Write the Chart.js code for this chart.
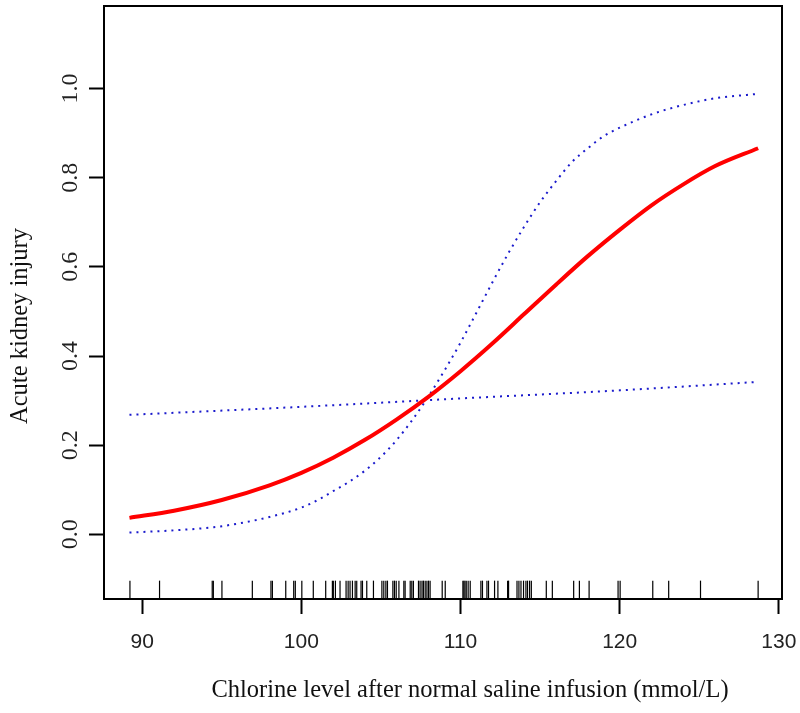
<!DOCTYPE html>
<html>
<head>
<meta charset="utf-8">
<title>Acute kidney injury vs chlorine level</title>
<script src="https://cdn.jsdelivr.net/npm/chart.js@4.4.0/dist/chart.umd.min.js"></script>
<style>
  html, body { margin: 0; padding: 0; background: #fff; }
  #wrap { width: 800px; height: 713px; }
</style>
</head>
<body>
<div id="wrap"><canvas id="rcs" width="800" height="713"></canvas></div>
<script>
// values
const fitX = [89.2, 92, 95, 98, 100, 102, 104, 106, 108, 110, 112, 114, 116, 118, 120, 122, 124, 126, 128.7];
const fitY = [0.037, 0.053, 0.077, 0.110, 0.138, 0.172, 0.212, 0.258, 0.309, 0.366, 0.428, 0.494, 0.560, 0.624, 0.683, 0.738, 0.785, 0.826, 0.866];

// flat band line (upper on the left, lower on the right)
const flatX = [89.2, 100, 109, 120, 128.7];
const flatY = [0.268, 0.286, 0.303, 0.323, 0.342];

// steep band line (lower on the left, upper on the right)
const steepX = [89.2, 92, 94.5, 96, 98, 100, 101.2, 102, 103, 104, 105, 106, 107, 108, 109, 110, 111, 112, 113, 114, 115, 116, 117, 118, 119, 120, 122, 124, 126, 128.7];
const steepY = [0.004, 0.009, 0.016, 0.024, 0.039, 0.060, 0.080, 0.097, 0.118, 0.143, 0.174, 0.212, 0.258, 0.310, 0.368, 0.430, 0.497, 0.565, 0.630, 0.690, 0.745, 0.792, 0.835, 0.866, 0.893, 0.912, 0.942, 0.963, 0.978, 0.988];

// rug of observed chlorine levels
const rugX = [89.23, 91.09, 94.40, 94.47, 95.01, 96.92, 98.09, 98.18, 99.02, 99.52, 99.62, 100.03, 100.75,
  101.53, 101.95, 102.01, 102.14, 102.43, 102.81, 102.94, 103.06, 103.21, 103.38, 103.48, 103.75, 103.84,
  104.11, 104.53, 105.06, 105.18, 105.31, 105.41, 105.75, 105.85, 105.96, 106.13, 106.44, 106.52, 106.84,
  106.94, 107.04, 107.36, 107.46, 107.58, 107.67, 107.78, 107.89, 107.99, 108.09, 108.85, 109.04, 110.15,
  110.21, 110.28, 110.36, 110.48, 110.61, 111.28, 111.38, 111.66, 111.76, 112.14, 112.35, 112.96, 113.02,
  113.55, 113.67, 113.80, 113.96, 114.11, 114.21, 114.34, 114.45, 115.39, 115.77, 117.11, 117.47, 118.08,
  119.90, 120.03, 122.08, 123.08, 125.08, 128.70];
const rugLevel = -0.124;

const xTicks = [90, 100, 110, 120, 130];
const yTicks = [0, 0.2, 0.4, 0.6, 0.8, 1.0];

const xTitle = 'Chlorine level after normal saline infusion (mmol/L)';
const yTitle = 'Acute kidney injury';

const pairs = (xs, ys) => xs.map((x, i) => ({ x: x, y: ys[i] }));

// box round the plot region, like R's box()
const boxPlugin = {
  id: 'box',
  afterDraw(chart) {
    const a = chart.chartArea;
    const ctx = chart.ctx;
    ctx.save();
    ctx.strokeStyle = '#000';
    ctx.lineWidth = 2;
    ctx.strokeRect(a.left, a.top, a.right - a.left, a.bottom - a.top);
    ctx.restore();
  }
};

// tick labels (y rotated, like R's las = 0) and the two axis titles
const textPlugin = {
  id: 'texts',
  afterDraw(chart) {
    const sx = chart.scales.x;
    const sy = chart.scales.y;
    const ctx = chart.ctx;
    ctx.save();
    ctx.fillStyle = '#222';
    ctx.textAlign = 'center';
    ctx.textBaseline = 'middle';

    ctx.font = '21px "Liberation Sans"';
    xTicks.forEach(v => {
      ctx.fillText(String(v), sx.getPixelForValue(v), 642);
    });

    ctx.font = '24px "Liberation Serif"';
    yTicks.forEach(v => {
      ctx.save();
      ctx.translate(71, sy.getPixelForValue(v));
      ctx.rotate(-Math.PI / 2);
      ctx.fillText(v.toFixed(1), 0, 0);
      ctx.restore();
    });

    ctx.fillStyle = '#111';
    ctx.font = '24.5px "Liberation Serif"';
    ctx.fillText(xTitle, 470, 691);
    ctx.save();
    ctx.translate(21, 326);
    ctx.rotate(-Math.PI / 2);
    ctx.fillText(yTitle, 0, 0);
    ctx.restore();
    ctx.restore();
  }
};

new Chart(document.getElementById('rcs'), {
  type: 'line',
  data: {
    datasets: [
      {
        label: 'fit',
        data: pairs(fitX, fitY),
        borderColor: '#ff0000',
        borderWidth: 4,
        pointRadius: 0,
        cubicInterpolationMode: 'monotone'
      },
      {
        label: 'band flat',
        data: pairs(flatX, flatY),
        borderColor: '#1a1acc',
        borderWidth: 2,
        borderDash: [2, 5],
        pointRadius: 0,
        cubicInterpolationMode: 'monotone'
      },
      {
        label: 'band steep',
        data: pairs(steepX, steepY),
        borderColor: '#1a1acc',
        borderWidth: 2,
        borderDash: [2, 5],
        pointRadius: 0,
        cubicInterpolationMode: 'monotone'
      },
      {
        label: 'rug',
        data: rugX.map(x => ({ x: x, y: rugLevel })),
        showLine: false,
        pointStyle: 'line',
        rotation: 90,
        pointRadius: 9,
        pointBorderWidth: 1.2,
        pointBorderColor: '#000',
        borderColor: '#000'
      }
    ]
  },
  options: {
    responsive: false,
    animation: false,
    events: [],
    layout: { autoPadding: false, padding: { left: 0, right: 18, top: 6, bottom: 0 } },
    plugins: {
      legend: { display: false },
      tooltip: { enabled: false }
    },
    scales: {
      x: {
        type: 'linear',
        min: 87.6,
        max: 130.2,
        afterFit(s) { s.height = 114; },
        afterBuildTicks(s) { s.ticks = xTicks.map(v => ({ value: v })); },
        grid: { drawOnChartArea: false, tickLength: 15, tickWidth: 2, tickColor: '#000' },
        border: { display: false },
        ticks: { display: false }
      },
      y: {
        type: 'linear',
        min: -0.145,
        max: 1.185,
        afterFit(s) { s.width = 104; },
        afterBuildTicks(s) { s.ticks = yTicks.map(v => ({ value: v })); },
        grid: { drawOnChartArea: false, tickLength: 15, tickWidth: 2, tickColor: '#000' },
        border: { display: false },
        ticks: { display: false }
      }
    }
  },
  plugins: [boxPlugin, textPlugin]
});
</script>
</body>
</html>
